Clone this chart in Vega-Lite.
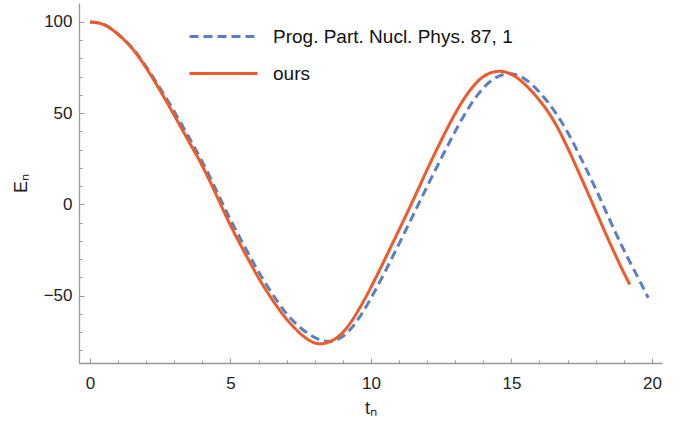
{
  "$schema": "https://vega.github.io/schema/vega-lite/v6.json",
  "width": 583,
  "height": 360,
  "autosize": "none",
  "padding": {"left": 79, "top": 3, "right": 23, "bottom": 62},
  "background": "white",
  "config": {
    "view": {"stroke": null},
    "font": "Liberation Sans",
    "axis": {
      "grid": false,
      "domainColor": "#999999",
      "domainWidth": 1.3,
      "tickColor": "#999999",
      "tickWidth": 1,
      "labelFont": "Liberation Sans",
      "labelFontSize": 17,
      "labelColor": "#222222",
      "titleFont": "Liberation Sans",
      "titleFontSize": 18,
      "titleFontWeight": "normal",
      "titleColor": "#222222"
    }
  },
  "data": {
    "values": [
      {"series": "Prog. Part. Nucl. Phys. 87, 1", "t": 0, "E": 100},
      {"series": "Prog. Part. Nucl. Phys. 87, 1", "t": 0.5, "E": 98.6},
      {"series": "Prog. Part. Nucl. Phys. 87, 1", "t": 1, "E": 93.4},
      {"series": "Prog. Part. Nucl. Phys. 87, 1", "t": 1.5, "E": 85.8},
      {"series": "Prog. Part. Nucl. Phys. 87, 1", "t": 2, "E": 75.5},
      {"series": "Prog. Part. Nucl. Phys. 87, 1", "t": 2.5, "E": 63.5},
      {"series": "Prog. Part. Nucl. Phys. 87, 1", "t": 3, "E": 50.9},
      {"series": "Prog. Part. Nucl. Phys. 87, 1", "t": 3.5, "E": 37.3},
      {"series": "Prog. Part. Nucl. Phys. 87, 1", "t": 4, "E": 23.3},
      {"series": "Prog. Part. Nucl. Phys. 87, 1", "t": 4.5, "E": 7.6},
      {"series": "Prog. Part. Nucl. Phys. 87, 1", "t": 5, "E": -8.4},
      {"series": "Prog. Part. Nucl. Phys. 87, 1", "t": 5.5, "E": -23},
      {"series": "Prog. Part. Nucl. Phys. 87, 1", "t": 6, "E": -37},
      {"series": "Prog. Part. Nucl. Phys. 87, 1", "t": 6.5, "E": -49.3},
      {"series": "Prog. Part. Nucl. Phys. 87, 1", "t": 7, "E": -60},
      {"series": "Prog. Part. Nucl. Phys. 87, 1", "t": 7.5, "E": -67.8},
      {"series": "Prog. Part. Nucl. Phys. 87, 1", "t": 8, "E": -73},
      {"series": "Prog. Part. Nucl. Phys. 87, 1", "t": 8.5, "E": -75.2},
      {"series": "Prog. Part. Nucl. Phys. 87, 1", "t": 9, "E": -72.4},
      {"series": "Prog. Part. Nucl. Phys. 87, 1", "t": 9.5, "E": -64},
      {"series": "Prog. Part. Nucl. Phys. 87, 1", "t": 10, "E": -51.5},
      {"series": "Prog. Part. Nucl. Phys. 87, 1", "t": 10.5, "E": -37},
      {"series": "Prog. Part. Nucl. Phys. 87, 1", "t": 11, "E": -21.7},
      {"series": "Prog. Part. Nucl. Phys. 87, 1", "t": 11.5, "E": -6},
      {"series": "Prog. Part. Nucl. Phys. 87, 1", "t": 12, "E": 9.8},
      {"series": "Prog. Part. Nucl. Phys. 87, 1", "t": 12.5, "E": 25.2},
      {"series": "Prog. Part. Nucl. Phys. 87, 1", "t": 13, "E": 40},
      {"series": "Prog. Part. Nucl. Phys. 87, 1", "t": 13.5, "E": 53.4},
      {"series": "Prog. Part. Nucl. Phys. 87, 1", "t": 14, "E": 63.8},
      {"series": "Prog. Part. Nucl. Phys. 87, 1", "t": 14.5, "E": 69.9},
      {"series": "Prog. Part. Nucl. Phys. 87, 1", "t": 15, "E": 71.6},
      {"series": "Prog. Part. Nucl. Phys. 87, 1", "t": 15.5, "E": 68.5},
      {"series": "Prog. Part. Nucl. Phys. 87, 1", "t": 16, "E": 61.5},
      {"series": "Prog. Part. Nucl. Phys. 87, 1", "t": 16.5, "E": 51.8},
      {"series": "Prog. Part. Nucl. Phys. 87, 1", "t": 17, "E": 39.5},
      {"series": "Prog. Part. Nucl. Phys. 87, 1", "t": 17.5, "E": 24.5},
      {"series": "Prog. Part. Nucl. Phys. 87, 1", "t": 18, "E": 8.5},
      {"series": "Prog. Part. Nucl. Phys. 87, 1", "t": 18.5, "E": -8.5},
      {"series": "Prog. Part. Nucl. Phys. 87, 1", "t": 19, "E": -25},
      {"series": "Prog. Part. Nucl. Phys. 87, 1", "t": 19.5, "E": -40},
      {"series": "Prog. Part. Nucl. Phys. 87, 1", "t": 19.87, "E": -51.2},
      {"series": "ours", "t": 0, "E": 100},
      {"series": "ours", "t": 0.5, "E": 98.5},
      {"series": "ours", "t": 1, "E": 93.2},
      {"series": "ours", "t": 1.5, "E": 85.5},
      {"series": "ours", "t": 2, "E": 74.8},
      {"series": "ours", "t": 2.5, "E": 62.3},
      {"series": "ours", "t": 3, "E": 48.8},
      {"series": "ours", "t": 3.5, "E": 35},
      {"series": "ours", "t": 4, "E": 21},
      {"series": "ours", "t": 4.5, "E": 5},
      {"series": "ours", "t": 5, "E": -11.5},
      {"series": "ours", "t": 5.5, "E": -26.3},
      {"series": "ours", "t": 6, "E": -40.3},
      {"series": "ours", "t": 6.5, "E": -52.5},
      {"series": "ours", "t": 7, "E": -63},
      {"series": "ours", "t": 7.5, "E": -71},
      {"series": "ours", "t": 8, "E": -76},
      {"series": "ours", "t": 8.5, "E": -75.5},
      {"series": "ours", "t": 9, "E": -70.2},
      {"series": "ours", "t": 9.5, "E": -59.5},
      {"series": "ours", "t": 10, "E": -45.5},
      {"series": "ours", "t": 10.5, "E": -30},
      {"series": "ours", "t": 11, "E": -14},
      {"series": "ours", "t": 11.5, "E": 2.2},
      {"series": "ours", "t": 12, "E": 19},
      {"series": "ours", "t": 12.5, "E": 35},
      {"series": "ours", "t": 13, "E": 49.8},
      {"series": "ours", "t": 13.5, "E": 62},
      {"series": "ours", "t": 14, "E": 70},
      {"series": "ours", "t": 14.5, "E": 72.9},
      {"series": "ours", "t": 15, "E": 71.3},
      {"series": "ours", "t": 15.5, "E": 65.5},
      {"series": "ours", "t": 16, "E": 57},
      {"series": "ours", "t": 16.5, "E": 46},
      {"series": "ours", "t": 17, "E": 31},
      {"series": "ours", "t": 17.5, "E": 14},
      {"series": "ours", "t": 18, "E": -3.5},
      {"series": "ours", "t": 18.5, "E": -21},
      {"series": "ours", "t": 19, "E": -37.5},
      {"series": "ours", "t": 19.22, "E": -44}
    ]
  },
  "mark": {"type": "line", "interpolate": "natural", "strokeWidth": 3, "clip": true},
  "encoding": {
    "x": {
      "field": "t", "type": "quantitative",
      "scale": {"domain": [-0.39, 20.36], "nice": false, "zero": false},
      "axis": {
        "title": "tₙ",
        "values": [0,1,2,3,4,5,6,7,8,9,10,11,12,13,14,15,16,17,18,19,20],
        "labelExpr": "datum.value % 5 === 0 ? datum.label : ''",
        "tickSize": {"condition": {"test": "datum.value % 5 === 0", "value": -5}, "value": -3},
        "labelPadding": 17,
        "titlePadding": 8
      }
    },
    "y": {
      "field": "E", "type": "quantitative",
      "scale": {"domain": [-87, 110.4], "nice": false, "zero": false},
      "axis": {
        "title": "Eₙ",
        "values": [-80,-70,-60,-50,-40,-30,-20,-10,0,10,20,30,40,50,60,70,80,90,100],
        "labelExpr": "datum.value % 50 === 0 ? datum.label : ''",
        "tickSize": {"condition": {"test": "datum.value % 50 === 0", "value": -5}, "value": -3},
        "labelPadding": 12,
        "titlePadding": 13
      }
    },
    "color": {
      "field": "series", "type": "nominal",
      "scale": {"domain": ["Prog. Part. Nucl. Phys. 87, 1", "ours"], "range": ["#5B7FBF", "#EE5A2A"]},
      "legend": {
        "title": null,
        "orient": "none",
        "legendX": 126,
        "legendY": 15,
        "symbolType": "M-2,0H2",
        "symbolSize": 1156,
        "symbolStrokeWidth": 3,
        "labelFont": "Liberation Sans",
        "labelFontSize": 19,
        "labelColor": "#111111",
        "labelOffset": 31,
        "labelLimit": 0,
        "rowPadding": 8
      }
    },
    "strokeDash": {
      "field": "series", "type": "nominal",
      "scale": {"domain": ["Prog. Part. Nucl. Phys. 87, 1", "ours"], "range": [[9, 5], [1, 0]]},
      "legend": null
    }
  }
}
